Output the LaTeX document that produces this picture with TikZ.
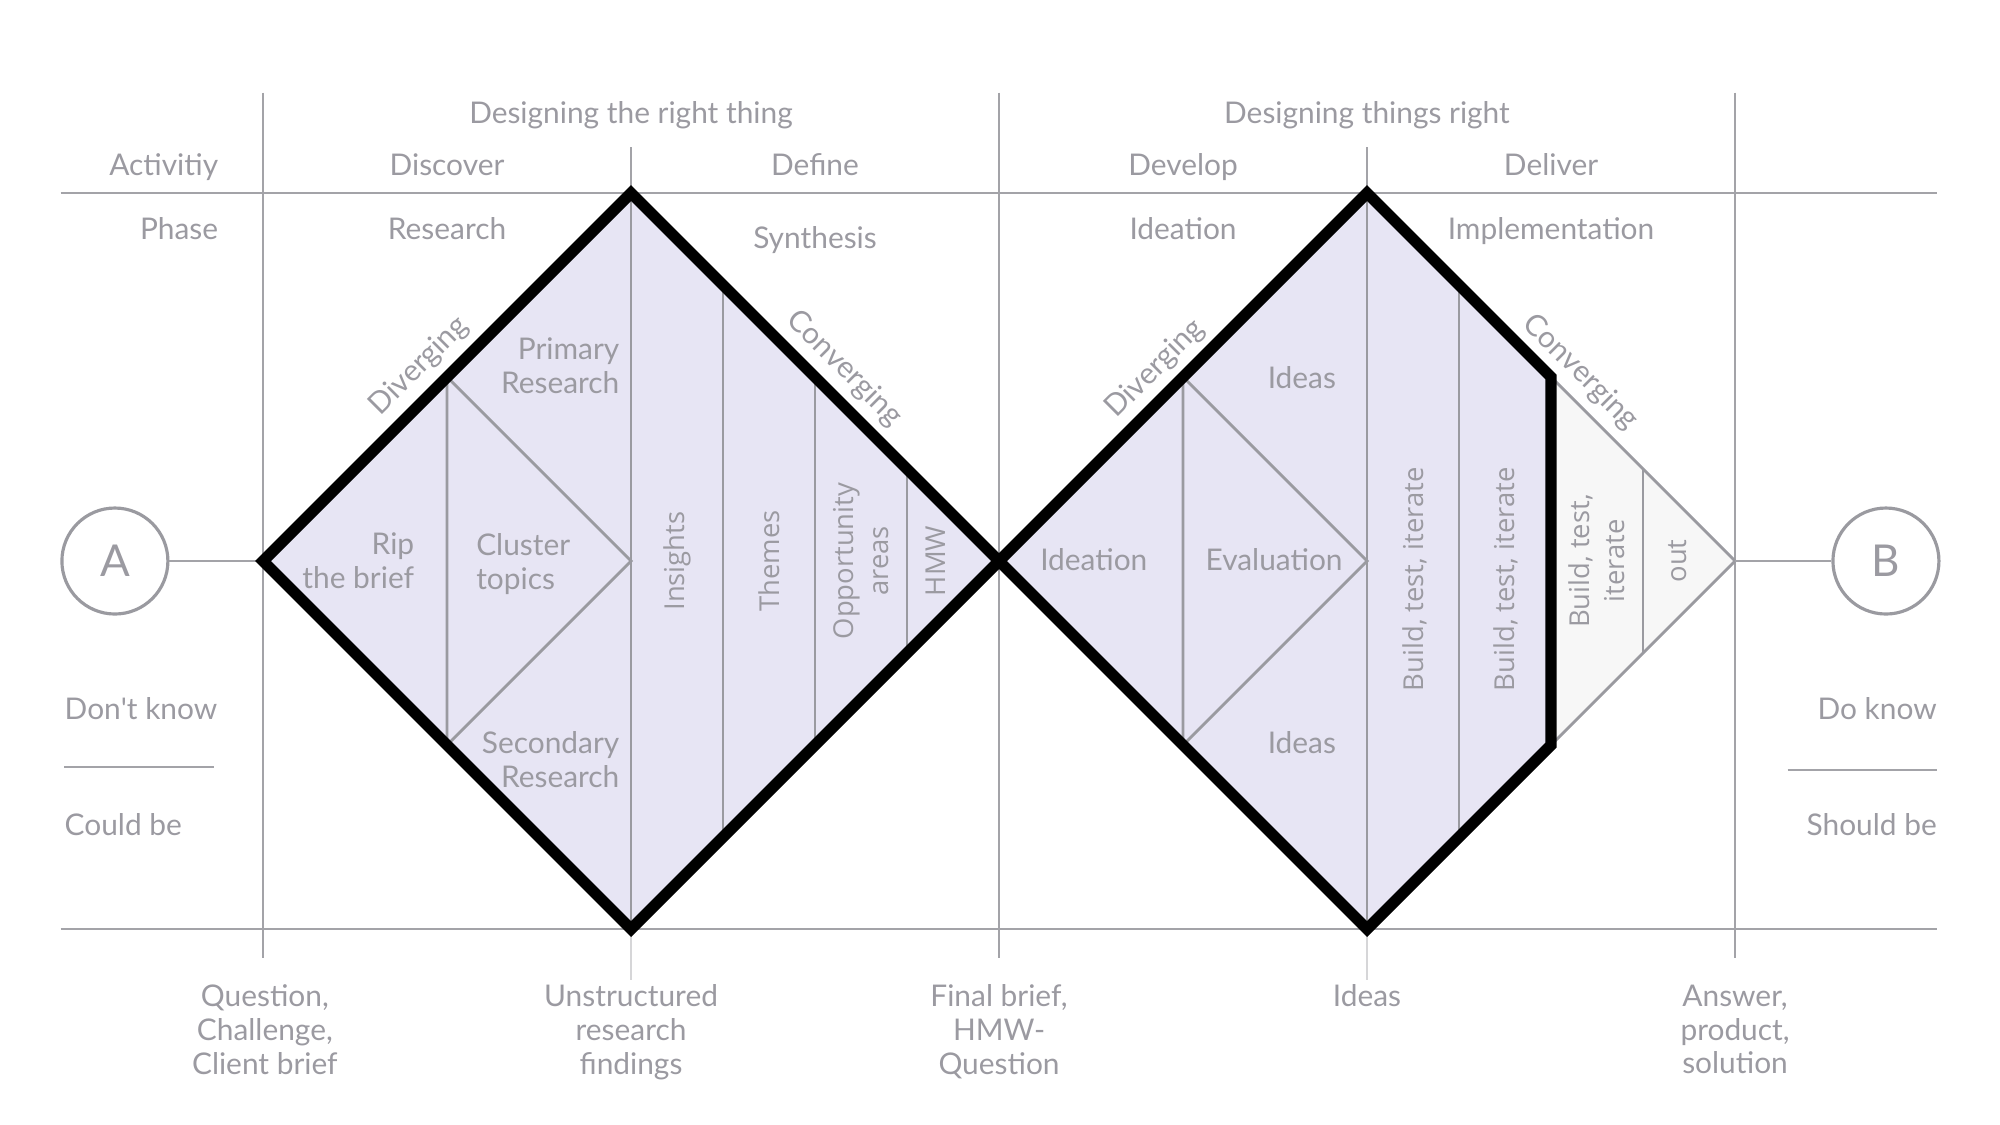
\documentclass[tikz,border=0pt]{standalone}
\usepackage{fontspec}
\setmainfont{Lato}
\newfontfamily\widesans{Open Sans}
\usetikzlibrary{positioning}
\definecolor{cText}{HTML}{9B9AA1}
\definecolor{cRule}{HTML}{A3A3A8}
\definecolor{cCut}{HTML}{9A9AA0}
\definecolor{cFill}{HTML}{E7E5F4}
\definecolor{cOut}{HTML}{F7F7F7}
\tikzset{
  lbl/.style={font=\fontsize{8.5}{9.6}\selectfont, text=cText, inner sep=0pt, align=center},
  lblr/.style={lbl, align=right},
  lbll/.style={lbl, align=left},
  vlbl/.style={font=\widesans\fontsize{7.8}{10}\selectfont, text=cText,
               inner sep=0pt, align=center, rotate=90},
  rule/.style={cRule, line width=0.45pt},
  hrule/.style={cRule, line width=0.8pt},
  cut/.style={cCut, line width=0.8pt},
  hull/.style={black, line width=3.2pt, line join=miter},
  pole/.style={circle, draw=cCut, line width=0.9pt, minimum size=1.06cm,
               inner sep=0pt, text=cText, font=\fontsize{12.5}{14}\selectfont},
}

\begin{document}
\begin{tikzpicture}[x=0.92cm, y=0.92cm]
  \useasboundingbox (-2.859,-6.130) rectangle (18.880,6.098);
  % corners of the two diamonds
  \coordinate (l1) at (0,0);
  \coordinate (t1) at (4,4);
  \coordinate (m)  at (8,0);
  \coordinate (b1) at (4,-4);
  \coordinate (t2) at (12,4);
  \coordinate (r2) at (16,0);
  \coordinate (b2) at (12,-4);
  \coordinate (cu) at (14,2);
  \coordinate (cd) at (14,-2);

  % table
  \draw[hrule] (-2.2,4) -- (18.2,4);
  \draw[hrule] (-2.2,-4) -- (18.2,-4);
  \foreach \x in {0,8,16} \draw[rule] (\x,5.09) -- (\x,-4.32);
  \foreach \x in {4,12} {
    \draw[rule] (\x,4.5) -- (\x,4);
    \draw[rule, cRule!45] (\x,-4) -- (\x,-4.55);
  }
  \draw[rule] (-2.16,-2.24) -- (-0.53,-2.24);
  \draw[rule] (16.57,-2.27) -- (18.2,-2.27);

  \fill[cFill] (l1) -- (t1) -- (m) -- (b1) -- cycle;
  \fill[cFill] (m) -- (t2) -- (cu) -- (cd) -- (b2) -- cycle;
  \filldraw[fill=cOut, draw=cCut, line width=0.8pt] (cu) -- (r2) -- (cd);

  % inner cuts
  \draw[cut] (2,2) -- (2,-2) (2,2) -- (4,0) -- (2,-2);
  \draw[cut] (4,4) -- (4,-4) (5,3) -- (5,-3) (6,2) -- (6,-2) (7,1) -- (7,-1);
  \draw[cut] (10,2) -- (10,-2) (10,2) -- (12,0) -- (10,-2);
  \draw[cut] (12,4) -- (12,-4) (13,3) -- (13,-3) (15,1) -- (15,-1);

  \node[pole] (a) at (-1.61,0) {A};
  \node[pole] (b) at (17.64,0) {B};
  \draw[rule, line width=0.6pt] (a) -- (l1);
  \draw[rule, line width=0.6pt] (r2) -- (b);

  \draw[hull] (l1) -- (t1) -- (m) -- (b1) -- cycle;
  \draw[hull] (m) -- (t2) -- (cu) -- (cd) -- (b2) -- cycle;

  % header
  \node[lbl, anchor=base] (drt) at (4,4.76) {Designing the right thing};
  \node[lbl, anchor=base] (dtr) at (12,4.76) {Designing things right};
  \node[lbl, anchor=base east] (act) at (-0.48,4.195) {Activitiy};
  \node[lbl, anchor=base east] (pha) at (-0.48,3.5) {Phase};
  \node[lbl, anchor=base] (disc) at (2,4.195) {Discover};
  \node[lbl, anchor=base] (defi) at (6,4.195) {Define};
  \node[lbl, anchor=base] (deve) at (10,4.195) {Develop};
  \node[lbl, anchor=base] (deli) at (14,4.195) {Deliver};
  \node[lbl, anchor=base] (rese) at (2,3.5) {Research};
  \node[lbl, anchor=base] (synt) at (6,3.4) {Synthesis};
  \node[lbl, anchor=base] (ideh) at (10,3.5) {Ideation};
  \node[lbl, anchor=base] (impl) at (14,3.5) {Implementation};

  % along the edges
  \node[lbl, rotate=45]  (div1) at (1.70,2.12) {Diverging};
  \node[lbl, rotate=-45] (con1) at (6.32,2.09) {Converging};
  \node[lbl, rotate=45]  (div2) at (9.70,2.09) {Diverging};
  \node[lbl, rotate=-45] (con2) at (14.32,2.05) {Converging};

  % first diamond
  \node[lblr, anchor=east] (prim) at (3.88,2.12) {Primary\\Research};
  \node[lblr, anchor=east] (seco) at (3.88,-2.16) {Secondary\\Research};
  \node[lblr, anchor=east] (rip)  at (1.65,0) {Rip\\the brief};
  \node[lbll, anchor=west] (clus) at (2.31,-0.03) {Cluster\\topics};
  \node[vlbl] (insi) at (4.5,0) {Insights};
  \node[vlbl] (them) at (5.5,0) {Themes};
  \node[vlbl] (oppo) at (6.5,0) {Opportunity\\areas};
  \node[vlbl] (hmw)  at (7.31,0) {HMW};

  % second diamond
  \node[lbl, anchor=base] (idtn) at (9.03,-0.105) {Ideation};
  \node[lbl, anchor=base] (eval) at (10.99,-0.105) {Evaluation};
  \node[lbl, anchor=base east] (idup) at (11.67,1.88) {Ideas};
  \node[lbl, anchor=base east] (iddn) at (11.67,-2.09) {Ideas};
  \node[vlbl] (bti1) at (12.52,-0.2) {Build, test, iterate};
  \node[vlbl] (bti2) at (13.51,-0.2) {Build, test, iterate};
  \node[vlbl] (bti3) at (14.5,0) {Build, test,\\iterate};
  \node[vlbl] (out)  at (15.37,0) {out};

  % sides
  \node[lbl, anchor=base west] (dk) at (-2.163,-1.72) {Don\textquotesingle t know};
  \node[lbl, anchor=base west] (cb) at (-2.163,-2.98) {Could be};
  \node[lbl, anchor=base east] (dok) at (18.2,-1.72) {Do know};
  \node[lbl, anchor=base east] (sb) at (18.2,-2.98) {Should be};

  % outcomes
  \node[lbl, anchor=north] (qst) at (0.02,-4.6) {Question,\\Challenge,\\Client brief};
  \node[lbl, anchor=north] (unst) at (4,-4.6) {Unstructured\\research\\findings};
  \node[lbl, anchor=north] (fin) at (8,-4.6) {Final brief,\\HMW-\\Question};
  \node[lbl, anchor=north] (ids) at (12,-4.6) {Ideas};
  \node[lbl, anchor=north] (ans) at (16,-4.6) {Answer,\\product,\\solution};
\end{tikzpicture}
\end{document}
